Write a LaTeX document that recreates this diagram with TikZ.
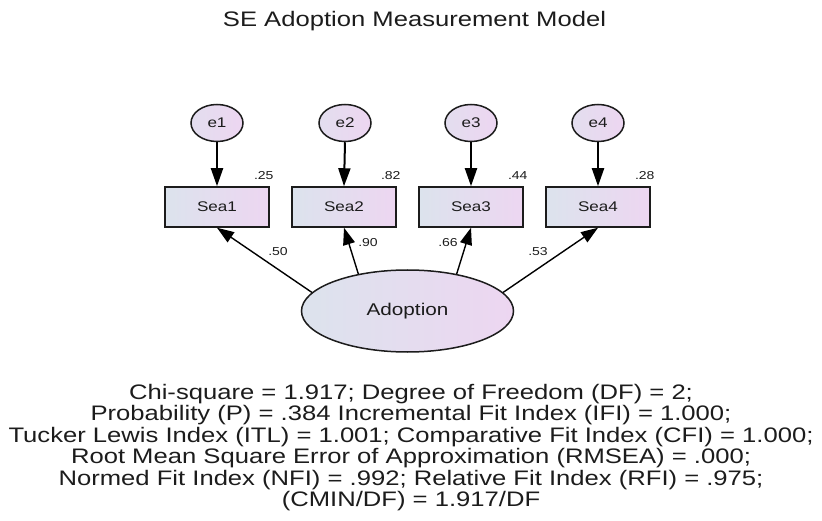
\documentclass[tikz,border=0pt]{standalone}
\usepackage{fontspec}
\setmainfont{Liberation Sans}[FakeStretch=1.22]
\usetikzlibrary{arrows.meta,shapes.geometric}

\definecolor{inkc}{RGB}{28,28,28}
\definecolor{fillL}{RGB}{220,227,237}
\definecolor{fillR}{RGB}{237,214,241}

\tikzset{
  varbox/.style={draw=inkc, line width=1.5pt, minimum width=104pt, minimum height=40pt,
    inner sep=0pt, left color=fillL, right color=fillR,
    font=\fontsize{14pt}{16pt}\selectfont, text=inkc},
  errnode/.style={ellipse, draw=inkc, line width=1.5pt, minimum width=52pt, minimum height=37pt,
    inner sep=0pt, left color=fillL!60!fillR, right color=fillR,
    font=\fontsize{14pt}{16pt}\selectfont, text=inkc},
  latent/.style={ellipse, draw=inkc, line width=1.5pt, minimum width=212pt, minimum height=82pt,
    inner sep=0pt, left color=fillL, right color=fillR,
    font=\fontsize{17pt}{19pt}\selectfont, text=inkc},
  errarrow/.style={draw=black, line width=2pt, -{Triangle[length=18pt,width=12pt]}},
  loadarrow/.style={draw=black, line width=1.4pt, -{Triangle[length=17pt,width=12pt]}},
  coef/.style={font=\fontsize{11.5pt}{13pt}\selectfont, text=inkc, inner sep=0pt},
  statline/.style={font=\fontsize{21pt}{22pt}\selectfont, text=inkc, anchor=base, inner sep=0pt},
}

\begin{document}
\begin{tikzpicture}[x=1pt, y=-1pt]
\useasboundingbox (0,0) rectangle (822,521);

% title
\node[statline] (title) at (414.5,27) {SE Adoption Measurement Model};

% error terms
\node[errnode] (e1) at (217,123) {e1};
\node[errnode] (e2) at (345,123) {e2};
\node[errnode] (e3) at (471,123) {e3};
\node[errnode] (e4) at (598,123) {e4};

% observed indicators
\node[varbox] (s1) at (217,207) {Sea1};
\node[varbox] (s2) at (344,207) {Sea2};
\node[varbox] (s3) at (471,207) {Sea3};
\node[varbox] (s4) at (598,207) {Sea4};

% latent factor
\node[latent] (adopt) at (407.5,311) {Adoption};

% error paths
\draw[errarrow] (e1.south) -- (s1.north);
\draw[errarrow] (e2.south) -- (s2.north);
\draw[errarrow] (e3.south) -- (s3.north);
\draw[errarrow] (e4.south) -- (s4.north);

% squared multiple correlations
\node[coef] (r1) at ([shift={(-6,-11)}]s1.north east) {.25};
\node[coef] (r2) at ([shift={(-6,-11)}]s2.north east) {.82};
\node[coef] (r3) at ([shift={(-6,-11)}]s3.north east) {.44};
\node[coef] (r4) at ([shift={(-6,-11)}]s4.north east) {.28};

% factor loadings
\draw[loadarrow] (adopt.169) -- (s1.south);
\draw[loadarrow] (adopt.143) -- (s2.south);
\draw[loadarrow] (adopt.37) -- (s3.south);
\draw[loadarrow] (adopt.11) -- (s4.south);

\node[coef] (l1) at (278,252) {.50};
\node[coef] (l2) at (368,243) {.90};
\node[coef] (l3) at (448,243) {.66};
\node[coef] (l4) at (538,252) {.53};

% fit statistics
\node[statline] (st1) at (411,399) {Chi-square = 1.917; Degree of Freedom (DF) = 2;};
\node[statline] (st2) at (411,420.5) {Probability (P) = .384 Incremental Fit Index (IFI) = 1.000;};
\node[statline] (st3) at (411,442) {Tucker Lewis Index (ITL) = 1.001; Comparative Fit Index (CFI) = 1.000;};
\node[statline] (st4) at (411,463.5) {Root Mean Square Error of Approximation (RMSEA) = .000;};
\node[statline] (st5) at (411,485) {Normed Fit Index (NFI) = .992; Relative Fit Index (RFI) = .975;};
\node[statline] (st6) at (411,506.5) {(CMIN/DF) = 1.917/DF};
\end{tikzpicture}
\end{document}
